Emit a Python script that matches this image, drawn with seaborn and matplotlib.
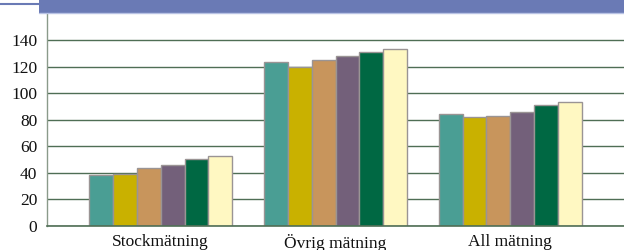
import matplotlib
matplotlib.use("Agg")
import matplotlib.pyplot as plt
import seaborn as sns
import pandas as pd
from matplotlib.patches import Rectangle
from matplotlib.lines import Line2D

categories = ["Stockmätning", "Övrig mätning", "All mätning"]
series = ["Serie 1", "Serie 2", "Serie 3", "Serie 4", "Serie 5", "Serie 6"]
values = {
    "Serie 1": [38.5, 123.5, 84.5],
    "Serie 2": [39.5, 120.0, 82.0],
    "Serie 3": [44.0, 125.0, 83.0],
    "Serie 4": [46.0, 128.0, 86.0],
    "Serie 5": [50.5, 131.0, 91.0],
    "Serie 6": [52.5, 133.0, 93.0],
}
colors = ["#4a9e94", "#c9b100", "#c8955c", "#73607a", "#006843", "#fff8c2"]
yticks = [0, 20, 40, 60, 80, 100, 120, 140]

rows = []
for s in series:
    for c, v in zip(categories, values[s]):
        rows.append({"cat": c, "serie": s, "val": v})
df = pd.DataFrame(rows)

sns.set_theme(style="white")
plt.rcParams["font.family"] = ["Liberation Serif", "DejaVu Serif"]

fig = plt.figure(figsize=(6.24, 2.5), dpi=100)
ax = fig.add_axes([47/624, 1-226/250, 1-47/624, (226-13.4)/250])

sns.barplot(data=df, x="cat", y="val", hue="serie", order=categories,
            hue_order=series, palette=colors, width=0.82, ax=ax,
            edgecolor="#9a9494", linewidth=1.0, legend=False, saturation=1)

ax.set_ylim(0, 160)
ax.set_xlim(-0.65, 2.65)
ax.set_yticks(yticks)
ax.set_yticklabels([str(t) for t in yticks], fontsize=12.5, color="#111111")
ax.tick_params(axis="x", labelsize=12.5, pad=5.5, length=0, colors="#111111")
ax.tick_params(axis="y", length=0, pad=7)
ax.set_xlabel("")
ax.set_ylabel("")
ax.yaxis.grid(True, color="#4f6e55", linewidth=1.0)
ax.set_axisbelow(True)
for side in ["top", "right"]:
    ax.spines[side].set_visible(False)
ax.spines["left"].set_color("#8a9a8a")
ax.spines["left"].set_linewidth(1.0)
ax.spines["bottom"].set_color("#4f6e55")
ax.spines["bottom"].set_linewidth(1.2)

# top banner (cropped legend band)
fig.patches.append(Rectangle((39/624, 1-13/250), 1-39/624, 13/250,
                             transform=fig.transFigure, facecolor="#6a7ab5",
                             edgecolor="none", zorder=5))
fig.lines.append(Line2D([39/624, 1], [1-13/250, 1-13/250], transform=fig.transFigure,
                        color="#b8c2e4", linewidth=1.0, zorder=6))
fig.lines.append(Line2D([0, 39/624], [1-3.5/250, 1-3.5/250], transform=fig.transFigure,
                        color="#6a7ab5", linewidth=1.5, zorder=6))

fig.savefig("out.png", dpi=100)
